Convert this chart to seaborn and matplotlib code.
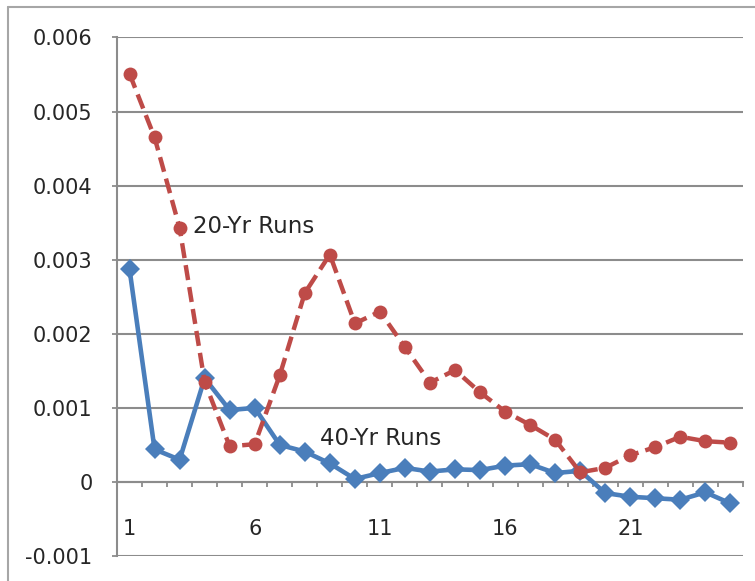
import numpy as np
import pandas as pd
import matplotlib
matplotlib.use("Agg")
import matplotlib.pyplot as plt
from matplotlib.lines import Line2D
from matplotlib.ticker import FixedLocator, FuncFormatter
import seaborn as sns

# ---- data ----
periods = list(range(1, 26))
runs_20yr = [0.00551, 0.00465, 0.00343, 0.00135, 0.00048, 0.00051, 0.00144, 0.00255,
             0.00307, 0.00214, 0.00230, 0.00182, 0.00134, 0.00151, 0.00121, 0.00095,
             0.00077, 0.00057, 0.00013, 0.00019, 0.00036, 0.00047, 0.00061, 0.00055,
             0.00053]
runs_40yr = [0.00287, 0.00044, 0.00030, 0.00140, 0.00097, 0.00100, 0.00050, 0.00041,
             0.00025, 0.00004, 0.00012, 0.00019, 0.00014, 0.00017, 0.00016, 0.00022,
             0.00024, 0.00012, 0.00015, -0.00015, -0.00020, -0.00022, -0.00024, -0.00014,
             -0.00029]
y_ticks = [-0.001, 0, 0.001, 0.002, 0.003, 0.004, 0.005, 0.006]
x_labels = [1, 6, 11, 16, 21]
label_20 = "20-Yr Runs"
label_40 = "40-Yr Runs"

sns.set_style("white")
plt.rcParams['font.family'] = ['DejaVu Sans']

RED = "#BE4B48"
BLUE = "#4A7EBB"
GRID = "#8C8C8C"
TXT = "#262626"

fig = plt.figure(figsize=(7.55, 5.81), dpi=100)
ax = fig.add_axes([0.155, 0.043, 0.829, 0.8925])

df = pd.DataFrame({"x": periods, "r20": runs_20yr, "r40": runs_40yr})

sns.lineplot(data=df, x="x", y="r40", ax=ax, color=BLUE, linewidth=3.3,
             marker="D", markersize=10, markeredgewidth=0, zorder=3)
sns.lineplot(data=df, x="x", y="r20", ax=ax, color=RED, linewidth=3.2,
             marker="o", markersize=10, markeredgewidth=0, zorder=4)
ax.lines[-1].set_dashes((3.4, 1.6))

ax.set_xlim(0.5, 25.5)
ax.set_ylim(-0.001, 0.006)
ax.set_xlabel("")
ax.set_ylabel("")

# y axis
ax.yaxis.set_major_locator(FixedLocator(y_ticks))
ax.yaxis.set_major_formatter(FuncFormatter(lambda v, p: f"{round(v, 3):g}"))
ax.yaxis.grid(True, color=GRID, linewidth=1.5)
ax.xaxis.grid(False)
ax.tick_params(axis="y", which="major", length=3.6, width=1.3, color=GRID,
               pad=14, labelsize=15, labelcolor=TXT, left=True)

# x axis at zero
ax.spines["bottom"].set_position(("data", 0))
ax.spines["bottom"].set_color(GRID)
ax.spines["bottom"].set_linewidth(1.5)
ax.spines["left"].set_color(GRID)
ax.spines["left"].set_linewidth(1.5)
ax.spines["top"].set_visible(False)
ax.spines["right"].set_visible(False)

ax.xaxis.set_major_locator(FixedLocator(x_labels))
ax.xaxis.set_major_formatter(FuncFormatter(lambda v, p: f"{int(round(v))}"))
ax.xaxis.set_minor_locator(FixedLocator(np.arange(0.5, 26, 1.0)))
ax.tick_params(axis="x", which="major", length=0, pad=27, labelsize=15,
               labelcolor=TXT, bottom=True)
ax.tick_params(axis="x", which="minor", length=3.6, width=1.3, color=GRID,
               direction="out", bottom=True)

ax.text(3.53, 0.00345, label_20, fontsize=16.5, color=TXT, va="center", ha="left")
ax.text(8.61, 0.00059, label_40, fontsize=16.5, color=TXT, va="center", ha="left")

# outer chart frame
fx = 8 / 755
fy = 1 - 7 / 581
fig.add_artist(Line2D([fx, fx], [0, fy], transform=fig.transFigure,
                      color="#A6A6A6", linewidth=1.5))
fig.add_artist(Line2D([fx, 1], [fy, fy], transform=fig.transFigure,
                      color="#A6A6A6", linewidth=1.5))

fig.savefig("out.png", dpi=100)
